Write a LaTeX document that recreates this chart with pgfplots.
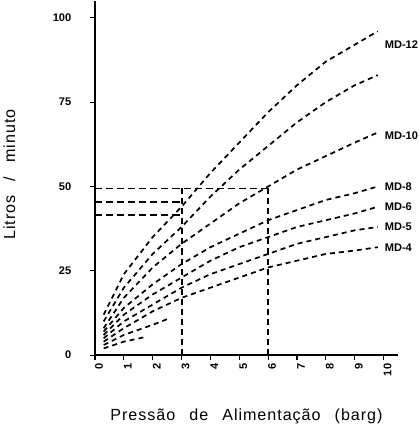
\documentclass[border=0pt]{standalone}
\usepackage{fontspec}
\setmainfont{Liberation Sans}
\usepackage{pgfplots}
\pgfplotsset{compat=1.18}
\newcommand{\lbl}{\fontsize{16}{18}\selectfont\addfontfeatures{LetterSpace=6}}
\newcommand{\gap}{\hspace{14pt}}
\newcommand{\tk}{\bfseries\fontsize{11}{12}\selectfont}
\tikzset{cname/.style={anchor=west, inner sep=0.5pt, font=\tk}}
\begin{document}
\begin{tikzpicture}
\begin{axis}[
  width=301pt, height=352pt, scale only axis,
  xmin=0, xmax=10.5, ymin=0, ymax=105,
  axis x line=bottom, axis y line=left,
  axis line style={line width=1.8pt,-},
  xtick={0,...,10}, ytick={0,25,50,75,100},
  tick align=outside, major tick length=5pt,
  tick style={black, line width=1.2pt},
  xticklabel style={rotate=90, anchor=east, yshift=-4pt, font=\tk},
  yticklabel style={anchor=east, xshift=-15pt, font=\tk},
  xlabel={\lbl Pressão\gap de\gap Alimentação\gap (barg)},
  ylabel={\lbl Litros\gap /\gap minuto},
  xlabel style={at={(axis description cs:0.5,-0.172)}, anchor=center},
  ylabel style={at={(axis description cs:-0.283,0.51)}, anchor=center},
  clip=false,
  /pgf/number format/assume math mode=true,
]
% reference readings
\addplot[black, line width=1.3pt, dash pattern=on 7pt off 4pt] coordinates {(0,49.5)(6,49.5)};
\addplot[black, line width=1.3pt, dash pattern=on 7pt off 4pt] coordinates {(0,45.4)(3,45.4)};
\addplot[black, line width=1.3pt, dash pattern=on 7pt off 4pt] coordinates {(0,41.5)(3,41.5)};
\addplot[black, line width=2pt, dash pattern=on 6pt off 4pt] coordinates {(3.02,0)(3.02,50)};
\addplot[black, line width=2pt, dash pattern=on 6pt off 4pt] coordinates {(6,0)(6,49.5)};
% flow curves
\pgfplotsset{flow/.style={black, line width=1.7pt, dash pattern=on 5pt off 4pt}}
\addplot[flow] coordinates {(0.3,12)(1,24)(2,35)(3,44)(4,54)(5,63)(6,72)(7,80)(8,87)(9,92)(9.8,96)};
\addplot[flow] coordinates {(0.3,10)(1,20)(2,30)(3,38)(4,47)(5,55)(6,62)(7,69)(8,75)(9,80)(9.8,83)};
\addplot[flow] coordinates {(0.3,8)(1,17)(2,26)(3,33)(4,39)(5,45)(6,50)(7,55)(8,59)(9,63)(9.8,66)};
\addplot[flow] coordinates {(0.3,7)(1,14)(2,21)(3,27)(4,32)(5,36)(6,40)(7,43)(8,46)(9,48)(9.8,50)};
\addplot[flow] coordinates {(0.3,6)(1,12)(2,18)(3,23)(4,28)(5,32)(6,35)(7,38)(8,40)(9,42)(9.8,44)};
\addplot[flow] coordinates {(0.3,5)(1,10)(2,15)(3,20)(4,24)(5,27)(6,30)(7,33)(8,35)(9,37)(9.8,38)};
\addplot[flow] coordinates {(0.3,4)(1,8)(2,13)(3,17)(4,20)(5,23)(6,26)(7,28)(8,30)(9,31)(9.8,32)};
\addplot[flow] coordinates {(0.3,3)(1,6)(2,9)(2.6,11)};
\addplot[flow] coordinates {(0.3,2)(1,4)(1.8,5.5)};
% curve names
\node[cname] at (axis cs:10.02,92) {MD-12};
\node[cname] at (axis cs:10.02,65) {MD-10};
\node[cname] at (axis cs:10.02,50) {MD-8};
\node[cname] at (axis cs:10.02,44) {MD-6};
\node[cname] at (axis cs:10.02,38) {MD-5};
\node[cname] at (axis cs:10.02,32) {MD-4};
\end{axis}
\end{tikzpicture}
\end{document}
